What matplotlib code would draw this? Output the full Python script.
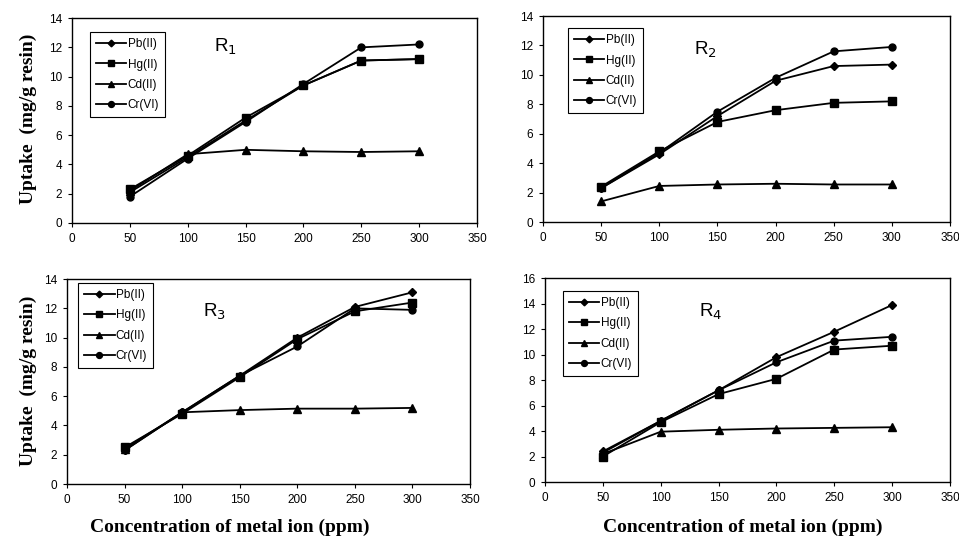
import matplotlib.pyplot as plt

# %% Data
conc = [50, 100, 150, 200, 250, 300]
metals = ["Pb(II)", "Hg(II)", "Cd(II)", "Cr(VI)"]
markers = ["D", "s", "^", "o"]
msizes = [4, 5.5, 5.5, 5]

r1_pb = [2.1, 4.5, 7.0, 9.4, 11.1, 11.2]
r1_hg = [2.3, 4.6, 7.2, 9.4, 11.1, 11.2]
r1_cd = [2.2, 4.7, 5.0, 4.9, 4.85, 4.9]
r1_cr = [1.8, 4.4, 6.9, 9.5, 12.0, 12.2]

r2_pb = [2.3, 4.6, 7.2, 9.6, 10.6, 10.7]
r2_hg = [2.4, 4.8, 6.8, 7.6, 8.1, 8.2]
r2_cd = [1.4, 2.45, 2.55, 2.6, 2.55, 2.55]
r2_cr = [2.3, 4.7, 7.5, 9.8, 11.6, 11.9]

r3_pb = [2.3, 4.9, 7.4, 10.0, 12.1, 13.1]
r3_hg = [2.5, 4.8, 7.3, 9.9, 11.8, 12.4]
r3_cd = [2.4, 4.9, 5.05, 5.15, 5.15, 5.2]
r3_cr = [2.3, 4.9, 7.4, 9.4, 12.0, 11.9]

r4_pb = [2.4, 4.8, 7.2, 9.8, 11.8, 13.9]
r4_hg = [2.0, 4.7, 6.9, 8.1, 10.4, 10.7]
r4_cd = [2.2, 3.95, 4.1, 4.2, 4.25, 4.3]
r4_cr = [2.3, 4.8, 7.2, 9.4, 11.1, 11.4]

panels = [
    ("R$_1$", [r1_pb, r1_hg, r1_cd, r1_cr], 14),
    ("R$_2$", [r2_pb, r2_hg, r2_cd, r2_cr], 14),
    ("R$_3$", [r3_pb, r3_hg, r3_cd, r3_cr], 14),
    ("R$_4$", [r4_pb, r4_hg, r4_cd, r4_cr], 16),
]

# axes rectangles in figure fractions, plus legend/title spots
rects = [
    [0.0751, 0.5886, 0.4223, 0.378],
    [0.5662, 0.5904, 0.4244, 0.380],
    [0.0699, 0.1070, 0.4202, 0.378],
    [0.5683, 0.1107, 0.4223, 0.376],
]
title_pos = [(0.378, 0.86), (0.40, 0.835), (0.367, 0.84), (0.41, 0.833)]
legend_pos = [(0.044, 0.93), (0.061, 0.94), (0.027, 0.98), (0.044, 0.936)]

plt.rcParams["font.family"] = ["Liberation Sans", "DejaVu Sans"]

fig = plt.figure(figsize=(9.59, 5.42), dpi=100)

for i, (name, series, ymax) in enumerate(panels):
    ax = fig.add_axes(rects[i])
    for vals, lab, mk, ms in zip(series, metals, markers, msizes):
        ax.plot(conc, vals, color="black", lw=1.3, marker=mk, ms=ms,
                label=lab)
    ax.set_xlim(0, 350)
    ax.set_ylim(0, ymax)
    ax.set_xticks(range(0, 351, 50))
    ax.set_yticks(range(0, ymax + 1, 2))
    ax.tick_params(labelsize=8.5, length=3, width=0.8, pad=4)
    for s in ax.spines.values():
        s.set_linewidth(1.0)
    ax.text(title_pos[i][0], title_pos[i][1], name, transform=ax.transAxes,
            fontsize=13.5, ha="center", va="center")
    leg = ax.legend(loc="upper left", bbox_to_anchor=legend_pos[i],
                    borderaxespad=0, fontsize=8.5, fancybox=False,
                    edgecolor="black", framealpha=1, handlelength=2.6,
                    labelspacing=0.7, borderpad=0.5, handletextpad=0.1,
                    markerscale=0.85)
    leg.get_frame().set_linewidth(0.8)

serif = ["Liberation Serif", "DejaVu Serif"]
fig.text(0.03, 0.78, "Uptake  (mg/g resin)", rotation=90, ha="center",
         va="center", fontsize=14, fontweight="bold", family=serif)
fig.text(0.03, 0.297, "Uptake  (mg/g resin)", rotation=90, ha="center",
         va="center", fontsize=14, fontweight="bold", family=serif)
fig.text(0.24, 0.027, "Concentration of metal ion (ppm)", ha="center",
         va="center", fontsize=14, fontweight="bold", family=serif)
fig.text(0.774, 0.027, "Concentration of metal ion (ppm)", ha="center",
         va="center", fontsize=14, fontweight="bold", family=serif)

fig.savefig("out.png", dpi=100)
